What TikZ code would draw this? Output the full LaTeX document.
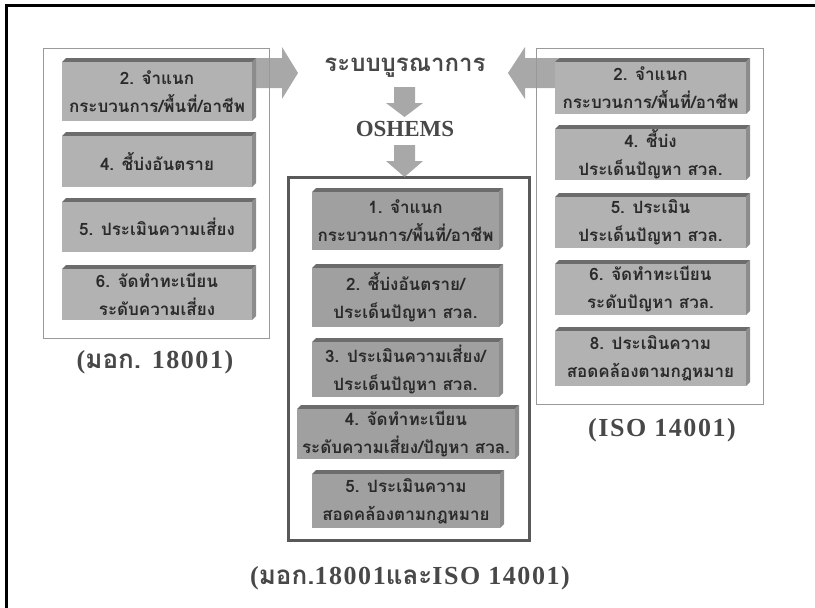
\documentclass[tikz,border=0pt]{standalone}
\usepackage{fontspec}
\setmainfont{Liberation Serif}
\newfontfamily\thai[Script=Thai]{Loma}
\definecolor{frontside}{HTML}{B2B2B2}
\definecolor{frontcenter}{HTML}{A0A0A0}
\definecolor{topface}{HTML}{6C6C6C}
\definecolor{sideface}{HTML}{8C8C8C}
\definecolor{itemtext}{HTML}{2A2A2A}
\definecolor{captext}{HTML}{484848}
\definecolor{arrowgray}{HTML}{999999}
\tikzset{
  topfill/.style={fill=topface},
  sidefill/.style={fill=sideface},
  front/.style={rectangle, inner sep=0pt, align=center, text=itemtext,
    font=\thai\bfseries\fontsize{17}{28}\selectfont},
  groupbox/.style={draw=gray!80, line width=1pt},
  centerbox/.style={draw=black!65, line width=3pt},
  bigarrow/.style={fill=arrowgray, opacity=0.85},
  caption/.style={text=captext, font=\bfseries\fontsize{26}{30}\selectfont\addfontfeature{LetterSpace=6}, inner sep=0pt},
}
\newcommand\blk[7]{%
  \fill[topfill] (#2,#3+4) -- (#2+4,#3) -- (#4,#3) -- (#4-4,#3+4) -- cycle;
  \fill[sidefill] (#4-4,#3+4) -- (#4,#3) -- (#4,#5-4) -- (#4-4,#5) -- cycle;
  \node[front, fill=#7, minimum width={#4-4-#2}, minimum height={#5-#3-4}]
    (#1) at ({(#2+#4-4)/2},{(#3+4+#5)/2}) {#6};
}
\begin{document}
\begin{tikzpicture}[x=1pt,y=-1pt]
\useasboundingbox (0,0) rectangle (815,608);
% outer frame (top and left edges)
\draw[line width=3pt, black] (815,5) -- (6,5) -- (6,608);
% group boxes
\node[groupbox, minimum width=226, minimum height=290, inner sep=0pt] (Lbox) at (156,193) {};
\node[groupbox, minimum width=227, minimum height=356, inner sep=0pt] (Rbox) at (649.5,226) {};
\node[centerbox, minimum width=241, minimum height=363, inner sep=0pt] (Cbox) at (408.5,358.5) {};
% big arrows
\fill[bigarrow] (252,58) -- (282,58) -- (282,47) -- (298,73) -- (282,99) -- (282,88) -- (252,88) -- cycle;
\fill[bigarrow] (558,58) -- (525,58) -- (525,47) -- (508,73) -- (525,99) -- (525,88) -- (558,88) -- cycle;
% title and OSHEMS
\node[text=captext, font=\thai\bfseries\fontsize{24}{28}\selectfont, inner sep=0pt] (title) at (405,68) {ระบบบูรณาการ};
\node[text=captext, font=\bfseries\fontsize{23}{26}\selectfont, inner sep=0pt] (oshems) at (405,129) {OSHEMS};
\fill[bigarrow] (394,87) -- (415,87) -- (415,103) -- (423,103) -- (404.5,117) -- (386,103) -- (394,103) -- cycle;
\fill[bigarrow] (394,145) -- (415,145) -- (415,161) -- (423,161) -- (404.5,177) -- (386,161) -- (394,161) -- cycle;
% left items
\blk{L1}{62}{58}{256}{121}{2. จำแนก\\กระบวนการ/พื้นที่/อาชีพ}{frontside}
\blk{L2}{62}{132}{256}{187}{4. ชี้บ่งอันตราย}{frontside}
\blk{L3}{62}{198}{256}{252}{5. ประเมินความเสี่ยง}{frontside}
\blk{L4}{62}{265}{256}{320}{6. จัดทำทะเบียน\\ระดับความเสี่ยง}{frontside}
% right items
\blk{R1}{555}{58}{750}{114}{2. จำแนก\\กระบวนการ/พื้นที่/อาชีพ}{frontside}
\blk{R2}{555}{125}{750}{180}{4. ชี้บ่ง\\ประเด็นปัญหา สวล.}{frontside}
\blk{R3}{555}{193}{750}{248}{5. ประเมิน\\ประเด็นปัญหา สวล.}{frontside}
\blk{R4}{555}{260}{750}{315}{6. จัดทำทะเบียน\\ระดับปัญหา สวล.}{frontside}
\blk{R5}{555}{327}{750}{386}{8. ประเมินความ\\สอดคล้องตามกฎหมาย}{frontside}
% center items
\blk{C1}{312}{188}{503}{250}{1. จำแนก\\กระบวนการ/พื้นที่/อาชีพ}{frontcenter}
\blk{C2}{312}{264}{503}{327}{2. ชี้บ่งอันตราย/\\ประเด็นปัญหา สวล.}{frontcenter}
\blk{C3}{312}{338}{503}{397}{3. ประเมินความเสี่ยง/\\ประเด็นปัญหา สวล.}{frontcenter}
\blk{C4}{297}{405}{519}{459}{4. จัดทำทะเบียน\\ระดับความเสี่ยง/ปัญหา สวล.}{frontcenter}
\blk{C5}{312}{470}{504}{528}{5. ประเมินความ\\สอดคล้องตามกฎหมาย}{frontcenter}
% captions
\node[caption] (capL) at (155,362) {({\thai มอก.} 18001)};
\node[caption] (capR) at (662,430) {(ISO 14001)};
\node[caption] (capC) at (410,578) {({\thai มอก.}18001{\thai และ}ISO 14001)};
\end{tikzpicture}
\end{document}
